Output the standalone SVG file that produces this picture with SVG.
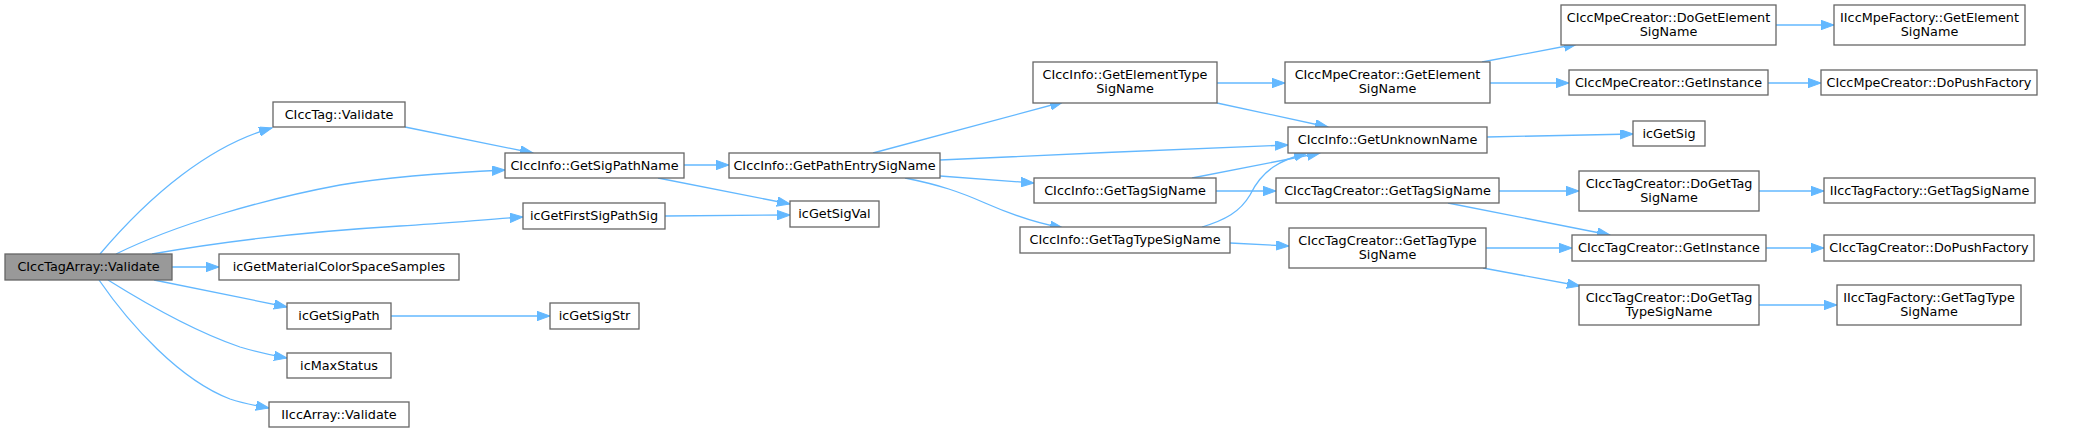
<svg xmlns="http://www.w3.org/2000/svg" width="2075" height="433" viewBox="0 0 2075 433">
<style>
.n rect{fill:#ffffff;stroke:#666666;stroke-width:1.3}
.n.root rect{fill:#999999}
.n text{font-family:"DejaVu Sans","Liberation Sans",sans-serif;font-size:12.8px;fill:#000000;text-anchor:middle}
.e path{fill:none;stroke:#63b8ff;stroke-width:1.3;marker-end:url(#ah)}
</style>
<defs>
<marker id="ah" markerUnits="userSpaceOnUse" markerWidth="14" markerHeight="10" refX="13" refY="4.7" orient="auto">
<path d="M0,0 L13,4.7 L0,9.4 z" fill="#63b8ff" stroke="#63b8ff" stroke-width="1"/>
</marker>
</defs>
<rect width="2075" height="433" fill="#ffffff"/>
<g id="edges" class="e">
<path d="M100,254 C150,195 210,145 272,128"/>
<path d="M116,254 C175,225 260,200 340,185 C400,175 460,172 505,170"/>
<path d="M152,254 C220,242 300,232 400,226 C450,223 490,219 523,217"/>
<path d="M172,267 L219,267"/>
<path d="M154,280 L287,307"/>
<path d="M108,280 C140,300 190,330 240,347 C260,353 275,356 287,358"/>
<path d="M99,280 C130,325 180,380 230,399 C245,404 258,406 269,408"/>
<path d="M405,127 L533,153"/>
<path d="M684,165 L729,165"/>
<path d="M658,178 L790,204"/>
<path d="M665,216 L790,215"/>
<path d="M391,316 L550,316"/>
<path d="M873,153 L1063,102"/>
<path d="M940,160 C1050,155 1180,149 1288,145"/>
<path d="M940,176 L1034,183"/>
<path d="M905,178 C940,185 960,192 985,203 C1010,214 1035,223 1063,228"/>
<path d="M1217,83 L1285,83"/>
<path d="M1217,103 L1328,127"/>
<path d="M1192,178 L1320,153"/>
<path d="M1216,191 L1276,191"/>
<path d="M1202,227 C1225,220 1240,212 1250,195 C1262,170 1280,160 1307,153"/>
<path d="M1230,243 L1289,246"/>
<path d="M1482,62 L1577,44"/>
<path d="M1490,83 L1569,83"/>
<path d="M1487,137 L1633,134"/>
<path d="M1499,191 L1579,191"/>
<path d="M1448,203 L1610,235"/>
<path d="M1486,248 L1572,248"/>
<path d="M1483,268 L1580,286"/>
<path d="M1776,25 L1834,25"/>
<path d="M1768,83 L1821,83"/>
<path d="M1759,191 L1824,191"/>
<path d="M1766,248 L1824,248"/>
<path d="M1759,305 L1837,305"/>
</g>
<g id="n0" class="n root"><rect x="5" y="254" width="167" height="26"/><text x="88.5" y="271">CIccTagArray::Validate</text></g>
<g id="n1" class="n"><rect x="273" y="102" width="132" height="25"/><text x="339" y="119">CIccTag::Validate</text></g>
<g id="n2" class="n"><rect x="505" y="153" width="179" height="25"/><text x="594.5" y="170">CIccInfo::GetSigPathName</text></g>
<g id="n3" class="n"><rect x="523" y="203" width="142" height="26"/><text x="594" y="220">icGetFirstSigPathSig</text></g>
<g id="n4" class="n"><rect x="219" y="254" width="240" height="26"/><text x="339" y="271">icGetMaterialColorSpaceSamples</text></g>
<g id="n5" class="n"><rect x="287" y="303" width="104" height="26"/><text x="339" y="320">icGetSigPath</text></g>
<g id="n6" class="n"><rect x="287" y="353" width="104" height="25"/><text x="339" y="370">icMaxStatus</text></g>
<g id="n7" class="n"><rect x="269" y="402" width="140" height="25"/><text x="339" y="419">IIccArray::Validate</text></g>
<g id="n8" class="n"><rect x="550" y="303" width="89" height="26"/><text x="594.5" y="320">icGetSigStr</text></g>
<g id="n9" class="n"><rect x="729" y="153" width="211" height="25"/><text x="834.5" y="170">CIccInfo::GetPathEntrySigName</text></g>
<g id="n10" class="n"><rect x="790" y="201" width="89" height="26"/><text x="834.5" y="218">icGetSigVal</text></g>
<g id="n11" class="n"><rect x="1033" y="62" width="184" height="41"/><text x="1125" y="78.5">CIccInfo::GetElementType</text><text x="1125" y="93">SigName</text></g>
<g id="n12" class="n"><rect x="1285" y="62" width="205" height="41"/><text x="1387.5" y="78.5">CIccMpeCreator::GetElement</text><text x="1387.5" y="93">SigName</text></g>
<g id="n13" class="n"><rect x="1288" y="127" width="199" height="26"/><text x="1387.5" y="144">CIccInfo::GetUnknownName</text></g>
<g id="n14" class="n"><rect x="1034" y="178" width="182" height="25"/><text x="1125" y="195">CIccInfo::GetTagSigName</text></g>
<g id="n15" class="n"><rect x="1276" y="178" width="223" height="25"/><text x="1387.5" y="195">CIccTagCreator::GetTagSigName</text></g>
<g id="n16" class="n"><rect x="1020" y="227" width="210" height="26"/><text x="1125" y="244">CIccInfo::GetTagTypeSigName</text></g>
<g id="n17" class="n"><rect x="1289" y="228" width="197" height="40"/><text x="1387.5" y="244.5">CIccTagCreator::GetTagType</text><text x="1387.5" y="259">SigName</text></g>
<g id="n18" class="n"><rect x="1561" y="5" width="215" height="40"/><text x="1668.5" y="21.5">CIccMpeCreator::DoGetElement</text><text x="1668.5" y="36">SigName</text></g>
<g id="n19" class="n"><rect x="1834" y="5" width="191" height="40"/><text x="1929.5" y="21.5">IIccMpeFactory::GetElement</text><text x="1929.5" y="36">SigName</text></g>
<g id="n20" class="n"><rect x="1569" y="70" width="199" height="25"/><text x="1668.5" y="87">CIccMpeCreator::GetInstance</text></g>
<g id="n21" class="n"><rect x="1821" y="70" width="216" height="25"/><text x="1929" y="87">CIccMpeCreator::DoPushFactory</text></g>
<g id="n22" class="n"><rect x="1633" y="121" width="72" height="25"/><text x="1669" y="138">icGetSig</text></g>
<g id="n23" class="n"><rect x="1579" y="171" width="180" height="40"/><text x="1669" y="187.5">CIccTagCreator::DoGetTag</text><text x="1669" y="202">SigName</text></g>
<g id="n24" class="n"><rect x="1824" y="178" width="211" height="25"/><text x="1929.5" y="195">IIccTagFactory::GetTagSigName</text></g>
<g id="n25" class="n"><rect x="1572" y="235" width="194" height="26"/><text x="1669" y="252">CIccTagCreator::GetInstance</text></g>
<g id="n26" class="n"><rect x="1824" y="235" width="210" height="26"/><text x="1929" y="252">CIccTagCreator::DoPushFactory</text></g>
<g id="n27" class="n"><rect x="1579" y="285" width="180" height="40"/><text x="1669" y="301.5">CIccTagCreator::DoGetTag</text><text x="1669" y="316">TypeSigName</text></g>
<g id="n28" class="n"><rect x="1837" y="285" width="184" height="40"/><text x="1929" y="301.5">IIccTagFactory::GetTagType</text><text x="1929" y="316">SigName</text></g>
</svg>
